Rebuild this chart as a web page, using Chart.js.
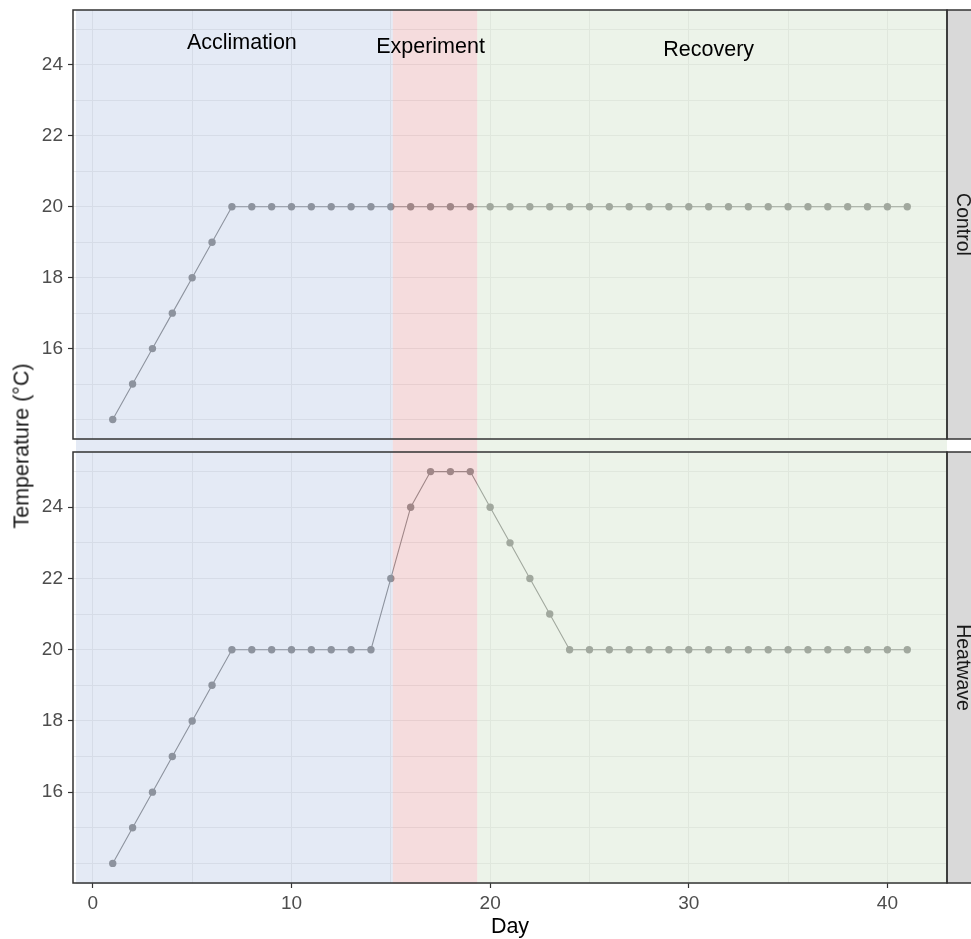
<!DOCTYPE html>
<html>
<head>
<meta charset="utf-8">
<script src="https://cdn.jsdelivr.net/npm/chart.js@4.4.1/dist/chart.umd.min.js"></script>
<style>
  html, body { margin: 0; padding: 0; background: #fff; width: 971px; height: 939px; overflow: hidden; }
  #wrap { position: relative; width: 971px; height: 939px; }
  canvas { position: absolute; left: 0; }
  #topPanel { top: 0; }
  #bottomPanel { top: 446px; }
  #ytitle {
    position: absolute; left: 22px; top: 446px;
    transform: translate(-50%, -50%) rotate(-90deg);
    font: normal 400 21.5px "Liberation Sans", Arial, sans-serif;
    color: #1a1a1a; white-space: nowrap;
  }
</style>
</head>
<body>
<div id="wrap">
  <canvas id="topPanel" width="971" height="446"></canvas>
  <canvas id="bottomPanel" width="971" height="493"></canvas>
  <div id="ytitle">Temperature (°C)</div>
</div>
<script>
// Daily water temperature for the two treatments
const days = [1,2,3,4,5,6,7,8,9,10,11,12,13,14,15,16,17,18,19,20,21,22,23,24,25,26,27,28,29,30,31,32,33,34,35,36,37,38,39,40,41];
const controlTemp = [14,15,16,17,18,19,20,20,20,20,20,20,20,20,20,20,20,20,20,20,20,20,20,20,20,20,20,20,20,20,20,20,20,20,20,20,20,20,20,20,20];
const heatwaveTemp = [14,15,16,17,18,19,20,20,20,20,20,20,20,20,22,24,25,25,25,24,23,22,21,20,20,20,20,20,20,20,20,20,20,20,20,20,20,20,20,20,20];

const panelNames = ['Control', 'Heatwave'];

// Experimental phases (day ranges) and their labels
const phaseNames = ['Acclimation', 'Experiment', 'Recovery'];
const phaseStart = [-0.85, 15.1, 19.35];
const phaseEnd = [15.1, 19.35, 43];
const phaseLabelDay = [7.5, 17, 31];
const phaseLabelTemp = [24.7, 24.6, 24.5];
const phaseFill = ['rgba(165,185,222,0.3)', 'rgba(223,144,147,0.315)', 'rgba(208,225,200,0.4)'];

// Axis ticks and grid
const xTickDays = [0, 10, 20, 30, 40];
const xGridDays = [0, 5, 10, 15, 20, 25, 30, 35, 40];
const yTickTemps = [16, 18, 20, 22, 24];
const yGridTemps = [14, 15, 16, 17, 18, 19, 20, 21, 22, 23, 24, 25];

const FONT = '"Liberation Sans", Arial, sans-serif';
const markColor = '#838383';

// Phase shading, phase labels, panel border and facet strip
const panelDecor = {
  id: 'panelDecor',
  afterDatasetsDraw(chart, args, opts) {
    const { ctx, chartArea: a, scales: { x, y } } = chart;
    const top = opts.panel === 0 ? a.top : 0;
    const bottom = opts.panel === 0 ? chart.height : a.bottom + 1;
    ctx.save();
    for (let i = 0; i < phaseNames.length; i++) {
      const x0 = Math.max(x.getPixelForValue(phaseStart[i]), a.left);
      const x1 = Math.min(x.getPixelForValue(phaseEnd[i]), a.right);
      ctx.fillStyle = phaseFill[i];
      ctx.fillRect(x0, top, x1 - x0, bottom - top);
    }
    if (opts.panel === 0) {
      ctx.fillStyle = '#000';
      ctx.font = '21.5px ' + FONT;
      ctx.textAlign = 'center';
      ctx.textBaseline = 'middle';
      for (let i = 0; i < phaseNames.length; i++) {
        ctx.fillText(phaseNames[i], x.getPixelForValue(phaseLabelDay[i]), y.getPixelForValue(phaseLabelTemp[i]) + 3);
      }
    }
    ctx.restore();
  },
  afterDraw(chart, args, opts) {
    const { ctx, chartArea: a } = chart;
    ctx.save();
    // strip
    ctx.fillStyle = '#d9d9d9';
    ctx.fillRect(a.right, a.top, chart.width - a.right + 2, a.bottom - a.top);
    ctx.strokeStyle = '#333333';
    ctx.lineWidth = 1.5;
    ctx.strokeRect(a.right, a.top, chart.width - a.right + 4, a.bottom - a.top);
    ctx.fillStyle = '#1a1a1a';
    ctx.font = '19.5px ' + FONT;
    ctx.textAlign = 'center';
    ctx.textBaseline = 'middle';
    ctx.translate(a.right + 15, (a.top + a.bottom) / 2);
    ctx.rotate(Math.PI / 2);
    ctx.fillText(panelNames[opts.panel], 0, 0);
    ctx.restore();
    // panel border
    ctx.save();
    ctx.strokeStyle = '#333333';
    ctx.lineWidth = 1.5;
    ctx.strokeRect(a.left, a.top, a.right - a.left, a.bottom - a.top);
    ctx.restore();
  }
};

function panelOptions(panel, showX) {
  return {
    responsive: false,
    animation: false,
    devicePixelRatio: 1,
    layout: { padding: { left: 0, right: 24, top: showX ? 6 : 10, bottom: 0 } },
    plugins: {
      legend: { display: false },
      tooltip: { enabled: false },
      panelDecor: { panel: panel }
    },
    scales: {
      x: {
        type: 'linear', min: -1, max: 43,
        afterBuildTicks: s => { s.ticks = xGridDays.map(v => ({ value: v })); },
        afterFit: s => {
          s.height = showX ? 56 : 7;
          s.paddingLeft = 0; s.paddingRight = 0;
        },
        border: { display: false },
        grid: {
          color: '#ebebeb', lineWidth: 1,
          drawTicks: showX, tickLength: 5, tickWidth: 1.2,
          tickColor: c => (c.tick && xTickDays.includes(c.tick.value)) ? '#333333' : 'rgba(0,0,0,0)'
        },
        ticks: {
          display: showX, autoSkip: false, maxRotation: 0, padding: 4,
          color: '#4d4d4d', font: { family: FONT, size: 19 },
          callback: v => xTickDays.includes(v) ? String(v) : ''
        },
        title: {
          display: showX, text: 'Day', color: '#000',
          font: { family: FONT, size: 21.5, lineHeight: 1 },
          padding: { top: 0, bottom: 1 }
        }
      },
      y: {
        type: 'linear', min: 13.45, max: 25.55,
        afterBuildTicks: s => { s.ticks = yGridTemps.map(v => ({ value: v })); },
        afterFit: s => {
          s.width = 73;
          s.paddingTop = 0; s.paddingBottom = 0;
        },
        border: { display: false },
        grid: {
          color: '#ebebeb', lineWidth: 1,
          drawTicks: true, tickLength: 5, tickWidth: 1.2,
          tickColor: c => (c.tick && yTickTemps.includes(c.tick.value)) ? '#333333' : 'rgba(0,0,0,0)'
        },
        ticks: {
          autoSkip: false, padding: 5,
          color: '#4d4d4d', font: { family: FONT, size: 19 },
          callback: v => yTickTemps.includes(v) ? String(v) : ''
        }
      }
    }
  };
}

function series(values) {
  return {
    data: days.map((d, i) => ({ x: d, y: values[i] })),
    borderColor: markColor,
    borderWidth: 1.1,
    pointBackgroundColor: markColor,
    pointBorderWidth: 0,
    pointRadius: 3.7,
    tension: 0,
    clip: false
  };
}

new Chart(document.getElementById('topPanel'), {
  type: 'line',
  data: { datasets: [series(controlTemp)] },
  options: panelOptions(0, false),
  plugins: [panelDecor]
});

new Chart(document.getElementById('bottomPanel'), {
  type: 'line',
  data: { datasets: [series(heatwaveTemp)] },
  options: panelOptions(1, true),
  plugins: [panelDecor]
});
</script>
</body>
</html>
